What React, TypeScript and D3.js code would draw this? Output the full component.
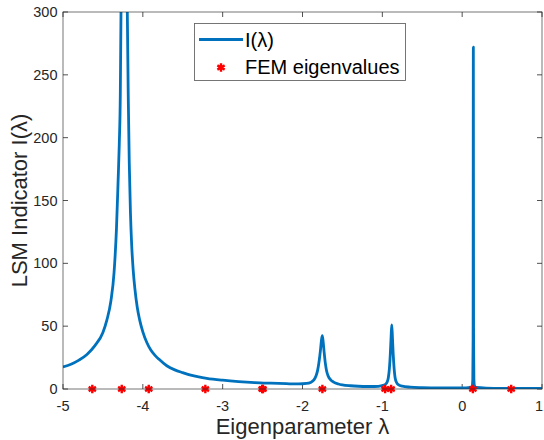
import * as d3 from 'd3'

const lambdas = [
  -5.0, -4.9, -4.8, -4.7, -4.6, -4.5, -4.45, -4.4, -4.36, -4.33, -4.31, -4.295, -4.282,
  -4.2735, -4.26, -4.245, -4.235, -4.225, -4.21, -4.1945, -4.182, -4.17, -4.155, -4.14, -4.12,
  -4.1, -4.07, -4.04, -4.0, -3.95, -3.9, -3.85, -3.8, -3.7, -3.6, -3.5, -3.4, -3.3, -3.2, -3.0,
  -2.8, -2.6, -2.4, -2.2, -2.05,
  -1.95, -1.9, -1.86, -1.83, -1.81, -1.79, -1.775, -1.762, -1.752, -1.742, -1.73, -1.715, -1.7,
  -1.68, -1.65, -1.61, -1.55, -1.5, -1.4, -1.3, -1.2, -1.1, -1.0,
  -0.96, -0.94, -0.925, -0.912, -0.9, -0.89, -0.882, -0.874, -0.864, -0.852, -0.84, -0.82, -0.8,
  -0.75, -0.65, -0.5, -0.3, -0.1, 0.05, 0.1, 0.125, 0.133, 0.137, 0.14, 0.143, 0.147, 0.155, 0.18,
  0.3, 0.5, 0.75, 1.0,
]
const indicator = [
  17.5, 19.7, 23, 27.5, 34.5, 45, 55, 70, 93, 128, 165, 195, 235,
  300, 450, 900, 1500, 1000, 450, 300, 230, 180, 140, 115, 94,
  80, 65, 55, 45.5, 37, 31, 27, 23.8, 18.5, 15.2, 13, 11, 9.6, 8.5, 7,
  5.9, 5.1, 4.6, 4.2, 4.0,
  4.4, 5.2, 7, 10.5, 15, 23, 31, 39, 42.5, 38, 30, 21, 15,
  10.5, 7.5, 5.5, 4, 3.3, 2.6, 2.2, 2.0, 2.0, 2.7,
  3.8, 5.5, 9, 16, 28, 42, 51, 42, 28, 16, 9, 5, 3.4,
  2.2, 1.5, 1.1, 0.9, 0.8, 0.9, 1.2, 2.5, 8, 40, 272, 40, 8, 2.5, 1.2,
  0.7, 0.5, 0.5, 0.5,
]
const femEigenvalues = [-4.633, -4.264, -3.926, -3.217, -2.505, -2.495, -1.751, -0.965, -0.89, 0.134, 0.614]

const xTicks = [-5, -4, -3, -2, -1, 0, 1]
const yTicks = [0, 50, 100, 150, 200, 250, 300]

const W = 544
const H = 440
const m = { top: 12, right: 2, bottom: 51, left: 63 }
const BLUE = '#0072BD'
const INK = '#262626'
const FONT = 'Arial, "Liberation Sans", Helvetica, sans-serif'

export default function App() {
  const x = d3.scaleLinear().domain([-5, 1]).range([m.left, W - m.right])
  const y = d3.scaleLinear().domain([0, 300]).range([H - m.bottom, m.top])

  const pts = lambdas.map((l, i) => [l, indicator[i]] as [number, number])
  const line = d3.line<[number, number]>()
    .x(d => x(d[0]))
    .y(d => y(d[1]))
    .curve(d3.curveMonotoneX)

  const star = d3.symbol().type(d3.symbolAsterisk).size(50)()

  const x0 = m.left, x1 = W - m.right, y0 = m.top, y1 = H - m.bottom
  const tick = 5

  return (
    <svg width={W} height={H} style={{ position: 'absolute', left: 0, top: 0, background: '#fff' }} fontFamily={FONT}>
      <defs>
        <clipPath id="plot"><rect x={x0} y={y0} width={x1 - x0} height={y1 - y0} /></clipPath>
      </defs>
      <rect x={0} y={0} width={W} height={H} fill="#fff" />

      {/* ticks, mirrored on all sides */}
      {xTicks.map(t => (
        <g key={'x' + t}>
          <line x1={x(t)} x2={x(t)} y1={y1} y2={y1 - tick} stroke={INK} strokeWidth={0.8} />
          <line x1={x(t)} x2={x(t)} y1={y0} y2={y0 + tick} stroke={INK} strokeWidth={0.8} />
          <text x={Math.min(x(t), 539)} y={410.5} textAnchor="middle" fontSize={14.5} fill={INK}>{t < 0 ? '-' + Math.abs(t) : t}</text>
        </g>
      ))}
      {yTicks.map(t => (
        <g key={'y' + t}>
          <line x1={x0} x2={x0 + tick} y1={y(t)} y2={y(t)} stroke={INK} strokeWidth={0.8} />
          <line x1={x1} x2={x1 - tick} y1={y(t)} y2={y(t)} stroke={INK} strokeWidth={0.8} />
          <text x={57.5} y={y(t)} dy="0.35em" textAnchor="end" fontSize={14.5} fill={INK}>{t}</text>
        </g>
      ))}

      <g clipPath="url(#plot)">
        <path d={line(pts) ?? ''} fill="none" stroke={BLUE} strokeWidth={2.8} strokeLinejoin="round" />
      </g>
      {femEigenvalues.map((v, i) => (
        <path key={i} d={star ?? ''} transform={`translate(${x(v)},${y(0)})`} stroke="#ff0000" strokeWidth={2.4} fill="none" />
      ))}

      <rect x={x0} y={y0} width={x1 - x0} height={y1 - y0} fill="none" stroke={INK} strokeOpacity={0.7} strokeWidth={0.9} />

      {/* legend */}
      <g>
        <rect x={194.5} y={23.5} width={211} height={57} fill="#fff" stroke={INK} strokeOpacity={0.7} strokeWidth={0.9} />
        <line x1={199} x2={243} y1={39.5} y2={39.5} stroke={BLUE} strokeWidth={2.8} />
        <text x={245} y={46.5} fontSize={20} fill="#000">I(λ)</text>
        <path d={star ?? ''} transform="translate(221,67.5)" stroke="#ff0000" strokeWidth={2.4} fill="none" />
        <text x={245} y={74} fontSize={20} fill="#000">FEM eigenvalues</text>
      </g>

      <text x={(x0 + x1) / 2} y={434} textAnchor="middle" fontSize={22} fill={INK}>Eigenparameter λ</text>
      <text transform={`translate(27,${(y0 + y1) / 2}) rotate(-90)`} textAnchor="middle" fontSize={22} fill={INK}>LSM Indicator I(λ)</text>
    </svg>
  )
}
